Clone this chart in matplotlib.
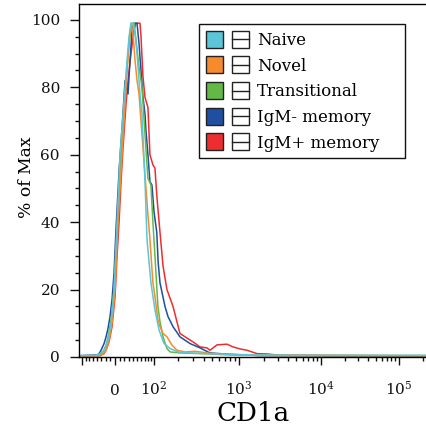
import numpy as np
import matplotlib
matplotlib.use("Agg")
import matplotlib.pyplot as plt
from matplotlib.legend_handler import HandlerBase
from matplotlib.patches import Rectangle, Patch
from matplotlib.lines import Line2D

# CD1a histograms, % of max
labels = ["Naive", "Novel", "Transitional", "IgM- memory", "IgM+ memory"]
colors = ["#5BC6D7", "#F68B2D", "#63B946", "#1F4FA0", "#EE2E2E"]

naive_x = [-90, -44.7, -32.8, -23.7, -15, -8.5, -2.1, 4.25, 10.7, 21.5, 26, 30.5, 35.1, 39.8,
           44.7, 49.7, 57.4, 62.8, 71.3, 77.1, 89.5, 103, 117, 136, 162, 202, 279, 472, 790,
           1800, 5500, 262144]
naive_y = [0.4, 0.5, 1.0, 2, 5, 10, 20, 40, 60, 80, 88, 95, 99, 99,
           96, 90, 78, 72, 52, 35, 22, 14, 8, 4, 2.5, 1.5, 1.2, 1.0, 0.8,
           0.6, 0.5, 0.5]

novel_x = [-90, -32.8, -23.7, -19.3, -12.8, -6.4, 0, 6.4, 15, 23.7, 30.5, 35.1, 39.8, 44.7,
           49.7, 54.8, 65.6, 74.2, 80.1, 86.3, 96.1, 103, 113, 120.5, 132, 148, 171, 197,
           244, 319, 415, 537, 1028, 262144]
novel_y = [0.3, 0.4, 1, 2, 5, 10, 20, 40, 60, 80, 93, 99, 96, 88,
           82, 78, 62, 50, 42, 35, 22, 18, 11, 9, 7, 6, 3.5, 2,
           1.5, 1.7, 1.3, 0.8, 0.5, 0.4]

trans_x = [-90, -32.8, -26, -19.3, -15, -8.5, -2.1, 6.4, 12.8, 23.7, 30.5, 37.5, 42.2, 47.2,
           54.8, 62.8, 71.3, 77.1, 80.1, 89.5, 96.1, 103, 113, 120.5, 132, 148, 162, 213,
           364, 612, 1800, 262144]
trans_y = [0.3, 0.5, 1.5, 3.5, 6, 11, 20, 42, 60, 82, 93, 99, 99, 94,
           86, 80, 66, 57, 53, 51, 40, 30, 15, 10.5, 6, 2.5, 1.5, 1.2,
           1.0, 0.8, 0.5, 0.4]

igm_neg_x = [-90, -39.8, -35.1, -30.5, -23.7, -19.3, -15, -10.7, -6.4, -2.1, 2.1, 8.5, 15,
             21.5, 28.2, 32.8, 37.5, 42.2, 49.7, 54.8, 60.1, 65.6, 71.3, 74.2, 80.1, 86.3,
             92.8, 100, 109, 114, 120.5, 139.9, 152.6, 176, 213, 279, 364, 472, 790, 1800,
             262144]
igm_neg_y = [0.4, 0.6, 1, 2, 4, 6, 8.5, 12, 17, 25, 38, 55, 68,
             82, 78, 88, 97, 99, 99, 93, 85, 77, 72, 67, 60, 52,
             51, 43, 37, 28, 22, 15, 12, 9, 6, 4, 2.7, 1.2, 0.8, 0.4,
             0.3]

igm_pos_x = [-90, -32.8, -23.7, -19.3, -12.8, -6.4, 0, 4.25, 8.5, 12.8, 17.1, 23.7, 28.2,
             35.1, 42.2, 47.2, 57.4, 60.1, 65.6, 71.3, 80.1, 86.3, 96.1, 103, 110, 120.5,
             132, 148, 176, 213, 258, 302, 364, 437, 472, 566, 734, 856, 1028, 1252, 1658,
             2196, 3164, 262144]
igm_pos_y = [0.3, 0.4, 1, 2, 4.5, 9, 18, 30, 40, 52, 62, 75, 82,
             90, 97, 99, 99, 95, 83, 77, 74, 60, 57, 56, 47, 37,
             27, 20, 15, 7, 5.6, 4.5, 3, 2.7, 2, 3.6, 3.8, 3, 2.4, 2, 1,
             0.9, 0.5, 0.3]

series = [(naive_x, naive_y), (novel_x, novel_y), (trans_x, trans_y),
          (igm_neg_x, igm_neg_y), (igm_pos_x, igm_pos_y)]

# biexponential display: arcsinh, bent so the decades sit where FlowJo draws them
W = 77.0
DECADES = np.array([0, 1e2, 1e3, 1e4, 1e5])
DECADE_POS = np.array([0, 39, 124, 206, 284])
_u = np.arcsinh(DECADES / W)
_lo = DECADE_POS[1] / _u[1]
_hi = (DECADE_POS[4] - DECADE_POS[3]) / (_u[4] - _u[3])
U_KNOTS = np.concatenate([[-30], _u, [30]])
P_KNOTS = np.concatenate([[-30 * _lo], DECADE_POS, [DECADE_POS[4] + (30 - _u[4]) * _hi]])


def biex_fwd(x):
    return np.interp(np.arcsinh(np.asarray(x, dtype=float) / W), U_KNOTS, P_KNOTS)


def biex_inv(p):
    return W * np.sinh(np.interp(np.asarray(p, dtype=float), P_KNOTS, U_KNOTS))


class FlowKey(HandlerBase):
    # FlowJo legend key: filled square, then an empty square with a bar
    def create_artists(self, legend, orig_handle, xdescent, ydescent, width, height, fontsize, trans):
        s = height
        x0, y0 = -xdescent, -ydescent
        fill = Rectangle((x0, y0), s, s, facecolor=orig_handle.get_facecolor(),
                         edgecolor="#222222", lw=1.0, transform=trans)
        box = Rectangle((x0 + width - s, y0), s, s, facecolor="white",
                        edgecolor="#222222", lw=1.0, transform=trans)
        bar = Line2D([x0 + width - s, x0 + width], [y0 + s / 2, y0 + s / 2],
                     color="#222222", lw=1.0, transform=trans)
        return [fill, box, bar]


def make_plot():
    plt.rcParams["font.family"] = ["DejaVu Serif"]
    plt.rcParams["mathtext.fontset"] = "dejavuserif"

    fig = plt.figure(figsize=(4.27, 4.28), dpi=100)
    ax = fig.add_axes([79 / 427, 71 / 428, 352.7 / 427, 353 / 428])
    ax.set_xscale("function", functions=(biex_fwd, biex_inv))

    # first series drawn last so Naive sits on top
    for (x, y), c in reversed(list(zip(series, colors))):
        ax.plot(x, y, color=c, lw=1.1)

    ax.set_xlim(-90, 262144)
    ax.set_ylim(0, 104.7)

    major = [-80, 0, 1e2, 1e3, 1e4, 1e5]
    ax.set_xticks(major, ["", "0", r"$10^{2}$", r"$10^{3}$", r"$10^{4}$", r"$10^{5}$"])
    minor = list(range(-70, 0, 10)) + list(range(10, 100, 10))
    for d in [1e2, 1e3, 1e4]:
        minor += [k * d for k in range(2, 10)]
    minor += [2e5]
    ax.set_xticks(minor, minor=True)

    ax.set_yticks(range(0, 101, 20))
    ax.set_yticks(range(0, 101, 5), minor=True)

    ax.tick_params(axis="both", which="both", direction="out", width=1.0, colors="#111111")
    ax.tick_params(axis="x", which="major", length=5.8, pad=21.6, labelsize=11)
    ax.tick_params(axis="x", which="minor", length=3)
    ax.tick_params(axis="y", which="major", length=6.5, pad=7.2, labelsize=11)
    ax.tick_params(axis="y", which="minor", length=3.2)
    for t in ax.xaxis.get_major_ticks():
        t.label1.set_va("baseline")

    for side in ["left", "top", "bottom"]:
        ax.spines[side].set_linewidth(1.0)
    ax.spines["right"].set_visible(False)

    ax.set_xlabel("CD1a", fontsize=18.8)
    ax.xaxis.set_label_coords(0.493, -0.181)
    ax.xaxis.label.set_va("baseline")
    ax.set_ylabel("% of Max", fontsize=12.3)
    ax.yaxis.set_label_coords(-0.124, 0.508)

    handles = [Patch(facecolor=c) for c in colors]
    leg = ax.legend(handles, labels, handler_map={Patch: FlowKey()},
                    loc="upper left", bbox_to_anchor=(0.3402, 0.9433, 0.5841, 0),
                    mode="expand", borderaxespad=0, fontsize=12,
                    handlelength=2.58, handleheight=1.2, handletextpad=0.48,
                    labelspacing=0.45, borderpad=0.4, fancybox=False, framealpha=1)
    leg.get_frame().set_edgecolor("#111111")
    leg.get_frame().set_linewidth(1.0)

    fig.savefig("out.png", dpi=100)


if __name__ == "__main__":
    make_plot()
